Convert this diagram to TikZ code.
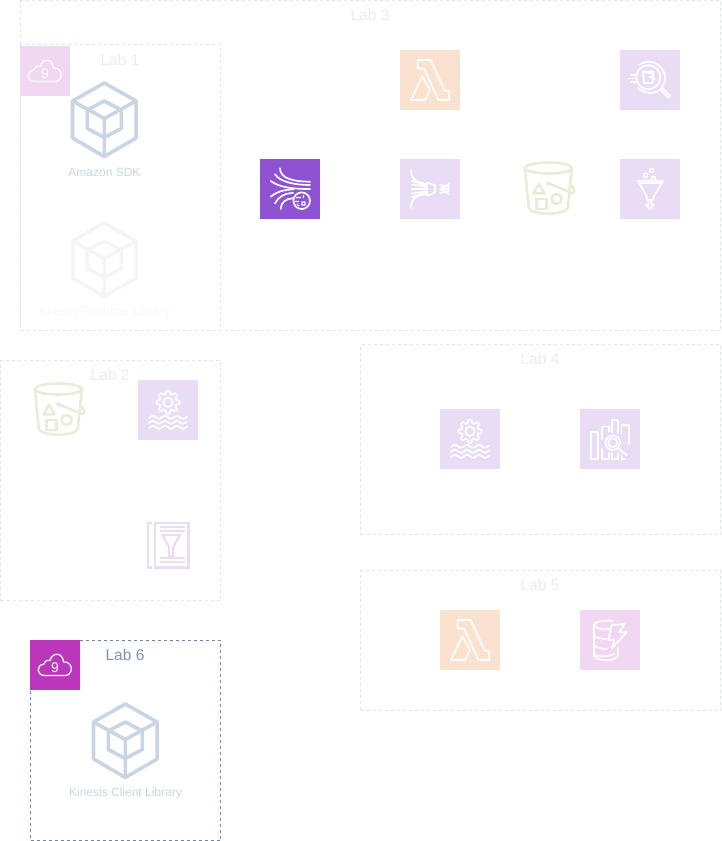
\documentclass[tikz,border=0pt]{standalone}
\usepackage{fontspec}
\setmainfont{Liberation Sans}
\usetikzlibrary{positioning}
\definecolor{labfaint}{HTML}{DEE3EC}
\definecolor{labtext}{HTML}{E8EBF1}
\definecolor{labstrong}{HTML}{7188AC}
\definecolor{labstrongtext}{HTML}{7F92B1}
\definecolor{cubeblue}{HTML}{CAD5E3}
\definecolor{cubefaint}{HTML}{F3F5F9}
\definecolor{capfaint}{HTML}{F5F7FA}
\definecolor{bucketgreen}{HTML}{E8EDD8}
\definecolor{lambdaorange}{HTML}{FBE2CF}
\definecolor{kinesispurple}{HTML}{E9DDF6}
\definecolor{streampurple}{HTML}{8F52D2}
\definecolor{cloudpink}{HTML}{F1D7F1}
\definecolor{cloudmagenta}{HTML}{BC36BC}
\tikzset{
	labbox/.style={rectangle,draw=labfaint,dash pattern=on 3pt off 3pt,line width=0.8pt,inner sep=0,outer sep=0,anchor=north west},
	labtitle/.style={text=labtext,font=\fontsize{15.5}{16}\selectfont,inner sep=0},
	iconbox/.style={rectangle,fill=#1,minimum size=60pt,inner sep=0,outer sep=0},
	cloudbox/.style={rectangle,fill=#1,minimum size=50pt,inner sep=0,outer sep=0},
	caption/.style={font=\fontsize{12}{13}\selectfont,inner sep=0},
	glyph/.style={draw=white,line width=1.7pt,line join=round,line cap=round},
	cubeicon/.pic={
		\draw[#1,line width=3.6pt,line join=round] (0,-36.5) -- (31.8,-18.5) -- (31.8,18.5) -- (0,37) -- (-31.8,18.5) -- (-31.8,-18.5) -- cycle;
		\draw[#1,line width=3.6pt,line join=round] (-31.8,-18.5) -- (0,-1) -- (31.8,-18.5) (0,-1) -- (0,37);
		\draw[#1,line width=3.6pt,line join=round] (0,-18.5) -- (17,-9.5) -- (17,9) -- (0,18) -- (-17,9) -- (-17,-9.5) -- cycle;
	},
	bucketicon/.pic={
		\draw[bucketgreen,line width=2.6pt] (0,-20) ellipse (23.5 and 5.5);
		\draw[bucketgreen,line width=2.6pt,line join=round] (-23.5,-20) -- (-19.5,20) .. controls (-16,27.5) and (16,27.5) .. (19.5,20) -- (23.5,-20);
		\draw[bucketgreen,line width=2.6pt,line join=round] (-15,5.3) -- (-3.7,5.3) -- (-9.3,-4) -- cycle;
		\draw[bucketgreen,line width=2.6pt] (-11.7,11) rectangle (-1.7,21);
		\draw[bucketgreen,line width=2.6pt] (8.3,11) circle (5);
		\draw[bucketgreen,line width=2.6pt,line cap=round] (0,-4.7) -- (24,5) .. controls (27,5.5) and (26,0) .. (23,-2.5);
		\fill[bucketgreen] (0,-4.7) circle (2.2);
	},
	lambdaicon/.pic={
		\draw[glyph] (-12.3,-20) -- (0.7,-20) -- (14.7,10.7) -- (19.3,10.7) -- (19.3,20) -- (8.3,20) -- (-6,-11.5) -- (-12.3,-11.5) -- cycle;
		\draw[glyph] (-7.7,-4) -- (-19,20) -- (-5,20) -- (0,10) -- cycle;
	},
	streamicon/.pic={
		\draw[glyph] (-10,-20.7) .. controls (-10,-10) and (5,-7.3) .. (20,-7.3);
		\draw[glyph] (-15,-14.7) .. controls (-10,-7) and (5,-4) .. (20,-4);
		\draw[glyph] (-19.3,-8) .. controls (-10,-1) and (5,0) .. (20,0);
		\draw[glyph] (-19.3,7.7) .. controls (-12,2) and (-5,0.5) .. (3,0.5);
		\draw[glyph] (-15,14.3) .. controls (-12,8) and (-5,4) .. (3,4);
		\draw[glyph] (-9.3,20) .. controls (-9,13) and (-4,9.5) .. (3,9.3);
		\draw[glyph] (11.7,11.7) circle (8.3);
		\draw[white,line width=1.2pt] (6,8.5) -- (11,8.5) (13.5,6) -- (13.5,9) (5,12.5) -- (9,12.5) (12,13) rectangle (15,16) (9,17) -- (7,15);
	},
	hoseicon/.pic={
		\draw[glyph] (-19,-19) .. controls (-19,-9) and (-12,-6) .. (-3.3,-5);
		\draw[glyph] (-19,19) .. controls (-19,9) and (-12,6) .. (-3.3,5);
		\draw[glyph] (-18,-4.5) -- (-3.3,-2.5) (-18,0) -- (-3.3,0) (-18,4.5) -- (-3.3,2.5) (-18,-8) -- (-3.3,-4) (-18,8) -- (-3.3,4);
		\draw[glyph] (-3.3,-6) -- (-1,-6) -- (5,-3.5) -- (5,3.5) -- (-1,6) -- (-3.3,6) -- cycle;
		\draw[glyph] (10,0) -- (19,-5) (10,0) -- (19,0) (10,0) -- (19,5) (10,-4) -- (19,-2) (10,4) -- (19,2);
	},
	searchicon/.pic={
		\draw[glyph] (-11,-15) .. controls (4,-25) and (16,-10) .. (15,-2) .. controls (15,12) and (0,18) .. (-12,8);
		\draw[glyph] (-1.7,-2.7) circle (12);
		\draw[glyph] (-7,-8.5) -- (3.5,-8.5) -- (2.5,3) -- (-6,3) -- cycle (-7,-8.5) -- (3.5,-6) (0,-3) -- (5,-1);
		\draw[glyph] (-21,-1.5) -- (-15,-1.5) (-19,-5) -- (-14,-5) (-19,2) -- (-14,2);
		\draw[white,line width=1.7pt,line cap=round] (10,9.3) -- (18,17.5) (12.5,8) -- (20,16);
		\draw[glyph] (18,17.5) -- (20,16);
	},
	funnelicon/.pic={
		\draw[glyph] (-11.7,-8.3) -- (12.7,-8.3) -- (11.5,-5.5) -- (3.3,8) -- (3.3,11) -- (-3,11) -- (-3,8) -- (-10.5,-5.5) -- cycle;
		\draw[glyph] (-11,-6) -- (11.5,-6);
		\draw[glyph] (-6,-15.5) rectangle (-2.5,-12);
		\draw[glyph] (0,-20) rectangle (3.5,-16.5);
		\draw[glyph] (1.5,-12) rectangle (5,-8.5);
		\draw[glyph] (-1.5,13) -- (-1.5,16) -- (-4,16) -- (0,20) -- (4,16) -- (1.5,16) -- (1.5,13);
	},
	gearicon/.pic={
		\draw[glyph] plot[domain=0:360,samples=97] (\x:{10+1.5*sign(cos(8*\x))}) -- cycle;
		\draw[glyph] (0,0) circle (4.7);
		\foreach \waveshift in {15,20,25}
			\draw[glyph] plot[domain=-19:19,samples=41,smooth] (\x,{\waveshift+1.4*sin(\x*30)});
	},
	catalogicon/.pic={
		\draw[kinesispurple,line width=2.2pt] (-13,-22) rectangle (20.5,22.5);
		\draw[kinesispurple,line width=2.2pt] (-16,-22) -- (-20,-22) -- (-20,22.5) -- (-16,22.5);
		\draw[kinesispurple,line width=2.2pt] (-8,-18.3) -- (17,-18.3) (-8,-14.3) -- (17,-14.3) (-8,13.3) -- (17,13.3) (-8,17.3) -- (17,17.3);
		\draw[kinesispurple,line width=2.2pt,line join=round] (-5.7,-10) -- (12,-10) -- (5.3,1.7) -- (5.3,11) -- (1,11) -- (1,1.7) -- cycle;
	},
	analyticsicon/.pic={
		\draw[glyph] (-19,-6.7) rectangle (-11.7,20);
		\draw[glyph] (-8,0) -- (-8,-12.5) -- (-1,-12.5) -- (-1,-7);
		\draw[glyph] (-8,10) -- (-8,20) -- (-1,20) -- (-1,14);
		\draw[glyph] (2,-7) -- (2,-19) -- (8,-19) -- (8,-6);
		\draw[glyph] (2,14) -- (2,20) -- (8,20) -- (8,14);
		\draw[glyph] (11.5,-5) -- (11.5,-14) -- (19,-14) -- (19,5);
		\draw[glyph] (11.5,16) -- (11.5,20) -- (15,20);
		\draw[glyph] (2.7,3.7) circle (7.3);
		\draw[glyph] (2.7,3.7) circle (4.5);
		\draw[glyph] (9,10) -- (17,16.5);
	},
	dynamoicon/.pic={
		\draw[glyph] (-1,-11) .. controls (-8,-10) and (-16,-12) .. (-16,-15) .. controls (-16,-18) and (-6,-20) .. (3,-19);
		\draw[glyph] (-16,-15) -- (-16,15) .. controls (-16,22) and (8,22) .. (8,15) -- (8,8);
		\draw[glyph] (-16,-5) .. controls (-14,-2) and (-8,-1) .. (-3,-1);
		\draw[glyph] (-16,5) .. controls (-14,8) and (-8,9) .. (-3,9);
		\draw[glyph] (-16,14) .. controls (-14,17) and (-2,17) .. (4,14);
		\draw[glyph] (1.7,-15) -- (-1.7,0) -- (4.3,0) -- (1.7,8.3) -- (16.7,-7.7) -- (9.3,-7.7) -- (14.3,-16) -- cycle;
	},
	cloudicon/.pic={
		\draw[white,line width=1.2pt,line join=round] (-10,10.5) .. controls (-19,10.5) and (-19,0) .. (-11,-1) .. controls (-10,-5) and (-7,-5) .. (-5,-4.5) .. controls (-3,-13) and (8,-13) .. (8.5,-3) .. controls (13,-4) and (18,1) .. (16,6) .. controls (15,9) and (13,10.5) .. (11,10.5) -- cycle;
		\node[white,font=\fontsize{14}{14}\selectfont,inner sep=0] (#1) at (0,2.5) {9};
	},
}
\begin{document}
\begin{tikzpicture}[x=1pt,y=-1pt]
	\useasboundingbox (0,0) rectangle (721,841);
	% lab frames
	\node[labbox,minimum width=700pt,minimum height=330pt] (labthree) at (20.5,0.5) {};
	\node[labbox,minimum width=200pt,minimum height=286pt] (labone) at (20.5,44.5) {};
	\node[labbox,minimum width=220pt,minimum height=240pt] (labtwo) at (0.5,360.5) {};
	\node[labbox,minimum width=360pt,minimum height=190pt] (labfour) at (360.5,344.5) {};
	\node[labbox,minimum width=360pt,minimum height=140pt] (labfive) at (360.5,570.5) {};
	\node[labbox,draw=labstrong,minimum width=190pt,minimum height=200pt] (labsix) at (30.5,640.5) {};
	\node[labtitle] (titlethree) at (370,15) {Lab 3};
	\node[labtitle] (titleone) at (120,60) {Lab 1};
	\node[labtitle] (titletwo) at (110,375) {Lab 2};
	\node[labtitle] (titlefour) at (540,359) {Lab 4};
	\node[labtitle] (titlefive) at (540,585) {Lab 5};
	\node[labtitle,text=labstrongtext] (titlesix) at (125,655) {Lab 6};
	% lab 1
	\node[cloudbox=cloudpink] (cloudone) at (45,71) {};
	\pic at (cloudone) {cloudicon=nineone};
	\coordinate (sdkcube) at (104.3,119.5);
	\pic at (sdkcube) {cubeicon=cubeblue};
	\node[caption,text=cubeblue] (sdkname) at (104.5,172.5) {Amazon SDK};
	\coordinate (kplcube) at (104.3,259.5);
	\pic at (kplcube) {cubeicon=cubefaint};
	\node[caption,text=capfaint] (kplname) at (104.5,312.5) {Kinesis Producer Library};
	% lab 3
	\node[iconbox=lambdaorange] (lambdathree) at (430,80) {};
	\pic at (lambdathree) {lambdaicon};
	\node[iconbox=kinesispurple] (searchthree) at (650,80) {};
	\pic at (searchthree) {searchicon};
	\node[iconbox=streampurple] (streamthree) at (290,189) {};
	\pic at (streamthree) {streamicon};
	\node[iconbox=kinesispurple] (hosethree) at (430,189) {};
	\pic at (hosethree) {hoseicon};
	\coordinate (bucketthree) at (548.3,188);
	\pic at (bucketthree) {bucketicon};
	\node[iconbox=kinesispurple] (funnelthree) at (650,189) {};
	\pic at (funnelthree) {funnelicon};
	% lab 2
	\coordinate (buckettwo) at (58.3,409);
	\pic at (buckettwo) {bucketicon};
	\node[iconbox=kinesispurple] (geartwo) at (168,410) {};
	\pic at ([yshift=7.7pt]geartwo.center) {gearicon};
	\coordinate (catalogtwo) at (168,545);
	\pic at (catalogtwo) {catalogicon};
	% lab 4
	\node[iconbox=kinesispurple] (gearfour) at (470,439) {};
	\pic at ([yshift=7.7pt]gearfour.center) {gearicon};
	\node[iconbox=kinesispurple] (analyticsfour) at (610,439) {};
	\pic at (analyticsfour) {analyticsicon};
	% lab 5
	\node[iconbox=lambdaorange] (lambdafive) at (470,640) {};
	\pic at (lambdafive) {lambdaicon};
	\node[iconbox=cloudpink] (dynamofive) at (610,640) {};
	\pic at (dynamofive) {dynamoicon};
	% lab 6
	\node[cloudbox=cloudmagenta] (cloudsix) at (55,665) {};
	\pic at (cloudsix) {cloudicon=ninesix};
	\coordinate (kclcube) at (125.3,740.5);
	\pic at (kclcube) {cubeicon=cubeblue};
	\node[caption,text=cubeblue] (kclname) at (125.5,793.5) {Kinesis Client Library};
\end{tikzpicture}
\end{document}
